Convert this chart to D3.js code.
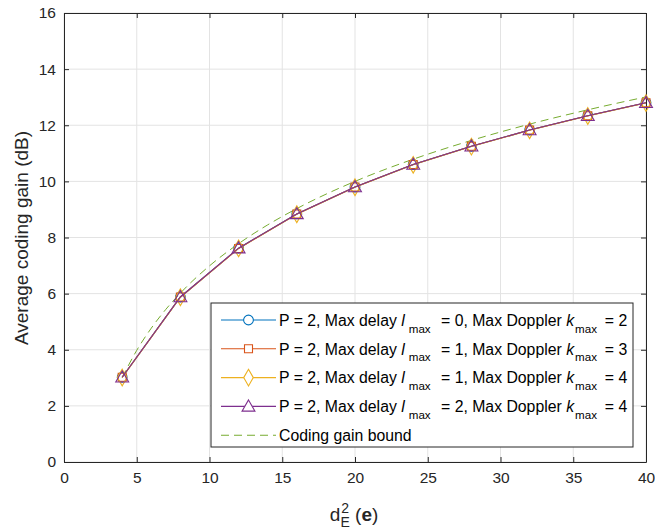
<!DOCTYPE html>
<html>
<head>
<meta charset="utf-8">
<script src="https://cdn.jsdelivr.net/npm/d3@7"></script>
<style>
  body { margin: 0; background: #fff; }
  svg { font-family: "Liberation Sans", Arial, Helvetica, sans-serif; }
</style>
</head>
<body>
<div id="chart"></div>
<script>
// data
const dist = [4, 8, 12, 16, 20, 24, 28, 32, 36, 40];
const gainA = [3.02, 5.88, 7.62, 8.84, 9.80, 10.60, 11.25, 11.83, 12.34, 12.80];
const gainB = [3.02, 5.88, 7.61, 8.84, 9.80, 10.60, 11.25, 11.83, 12.34, 12.80];
const gainC = [3.01, 5.87, 7.61, 8.83, 9.79, 10.59, 11.24, 11.82, 12.33, 12.79];
const gainD = [3.02, 5.88, 7.62, 8.84, 9.80, 10.60, 11.25, 11.83, 12.34, 12.80];
const boundX = [4, 5, 6, 7, 8, 10, 12, 14, 16, 20, 24, 28, 32, 36, 40];
const boundY = [3.01, 3.98, 4.77, 5.44, 6.02, 6.99, 7.78, 8.45, 9.03, 10.0, 10.79, 11.46, 12.04, 12.55, 13.01];
const xTicks = [0, 5, 10, 15, 20, 25, 30, 35, 40];
const yTicks = [0, 2, 4, 6, 8, 10, 12, 14, 16];
const legendL = ["0", "1", "1", "2"];
const legendK = ["2", "3", "4", "4"];

const width = 655, height = 529,
    margin = ({ top: 13, right: 9, bottom: 67, left: 64 });

const svg = d3.select("#chart")
    .append("svg")
    .attr("width", width)
    .attr("height", height);

const x = d3.scaleLinear()
    .domain([0, 40])
    .range([margin.left, width - margin.right]);

const y = d3.scaleLinear()
    .domain([0, 16])
    .range([height - margin.bottom, margin.top]);

const axisColor = "#262626";

// grid
svg.append("g")
    .selectAll("line")
    .data(xTicks)
    .join("line")
    .attr("x1", d => x(d)).attr("x2", d => x(d))
    .attr("y1", y(0)).attr("y2", y(16))
    .attr("stroke", "#e3e3e3");

svg.append("g")
    .selectAll("line")
    .data(yTicks)
    .join("line")
    .attr("x1", x(0)).attr("x2", x(40))
    .attr("y1", d => y(d)).attr("y2", d => y(d))
    .attr("stroke", "#e3e3e3");

// axes (ticks point inward like matlab)
const xAxis = g => g
    .attr("transform", `translate(0, ${y(0)})`)
    .call(d3.axisBottom(x).tickValues(xTicks).tickSizeInner(-5).tickSizeOuter(0).tickPadding(10))
    .attr("font-size", 15.5);

const yAxis = g => g
    .attr("transform", `translate(${x(0)}, 0)`)
    .call(d3.axisLeft(y).tickValues(yTicks).tickSizeInner(-5).tickSizeOuter(0).tickPadding(8))
    .attr("font-size", 15.5);

const xTop = g => g
    .attr("transform", `translate(0, ${y(16)})`)
    .call(d3.axisTop(x).tickValues(xTicks).tickSizeInner(-5).tickSizeOuter(0).tickFormat(""));

const yRight = g => g
    .attr("transform", `translate(${x(40)}, 0)`)
    .call(d3.axisRight(y).tickValues(yTicks).tickSizeInner(-5).tickSizeOuter(0).tickFormat(""));

[xAxis, yAxis, xTop, yRight].forEach(a => {
    const g = svg.append("g").call(a);
    g.selectAll("path, line").attr("stroke", axisColor);
    g.selectAll("text").attr("fill", axisColor);
});

// axis labels
svg.append("text")
    .attr("transform", `translate(27.5, 238) rotate(-90)`)
    .attr("text-anchor", "middle")
    .attr("font-size", 19)
    .attr("fill", axisColor)
    .text("Average coding gain (dB)");

const xl = svg.append("text")
    .attr("x", 354)
    .attr("y", 521)
    .attr("text-anchor", "middle")
    .attr("font-size", 19)
    .attr("fill", axisColor);
xl.append("tspan").text("d");
xl.append("tspan").attr("font-size", 14).attr("dx", 1).attr("dy", -8).text("2");
xl.append("tspan").attr("font-size", 14).attr("dx", -8.5).attr("dy", 14).text("E");
xl.append("tspan").attr("dy", -6).text(" (");
xl.append("tspan").attr("font-weight", "bold").text("e");
xl.append("tspan").text(")");

// series
const series = [
    { vals: gainA, color: "#0072BD", marker: "circle" },
    { vals: gainB, color: "#D95319", marker: "square" },
    { vals: gainC, color: "#EDB120", marker: "diamond" },
    { vals: gainD, color: "#7E2F8E", marker: "triangle" }
];

const markerPath = {
    circle: d3.symbol(d3.symbolCircle, 75),
    square: d3.symbol(d3.symbolSquare, 64),
    diamond: d3.symbol(d3.symbolDiamond, 80),
    triangle: d3.symbol(d3.symbolTriangle, 72)
};

const line = d3.line()
    .x(d => x(d[0]))
    .y(d => y(d[1]));

// bound
svg.append("path")
    .datum(boundX.map((d, i) => [d, boundY[i]]))
    .attr("fill", "none")
    .attr("stroke", "#77AC30")
    .attr("stroke-width", 1)
    .attr("stroke-dasharray", "8,5")
    .attr("d", line.curve(d3.curveMonotoneX));

line.curve(d3.curveLinear);

series.forEach(s => {
    const pts = dist.map((d, i) => [d, s.vals[i]]);
    svg.append("path")
        .datum(pts)
        .attr("fill", "none")
        .attr("stroke", s.color)
        .attr("stroke-width", 1.1)
        .attr("d", line);
    svg.append("g")
        .selectAll("path")
        .data(pts)
        .join("path")
        .attr("transform", d => `translate(${x(d[0])}, ${y(d[1]) + (s.marker === "triangle" ? 1 : 0)})`)
        .attr("d", markerPath[s.marker]())
        .attr("fill", "none")
        .attr("stroke", s.color)
        .attr("stroke-width", 1.1);
});

// legend
const lg = svg.append("g").attr("transform", "translate(211, 303)");
lg.append("rect")
    .attr("width", 422).attr("height", 144)
    .attr("fill", "#fff")
    .attr("stroke", axisColor);

const rows = series.map((s, i) => ({ ...s, l: legendL[i], k: legendK[i] }));
rows.push({ color: "#77AC30", marker: null });

rows.forEach((r, i) => {
    const cy = 17 + i * 28.8;
    const row = lg.append("g").attr("transform", `translate(0, ${cy})`);
    row.append("line")
        .attr("x1", 10).attr("x2", 65)
        .attr("stroke", r.color)
        .attr("stroke-width", 1.1)
        .attr("stroke-dasharray", r.marker ? null : "8,5");
    if (r.marker) {
        row.append("path")
            .attr("transform", `translate(37.5, ${r.marker === "triangle" ? 1 : 0})`)
            .attr("d", markerPath[r.marker]())
            .attr("fill", "#fff")
            .attr("stroke", r.color)
            .attr("stroke-width", 1.1);
    }
    const t = row.append("text")
        .attr("x", 68).attr("y", 5.7)
        .attr("font-size", 15.8)
        .attr("fill", "#000");
    if (r.marker) {
        t.append("tspan").text("P = 2, Max delay ");
        t.append("tspan").attr("font-style", "italic").text("l");
        t.append("tspan").attr("font-size", 11.6).attr("dx", 4).attr("dy", 7).text("max");
        t.append("tspan").attr("dx", 6).attr("dy", -7).text(` = ${r.l}, Max Doppler `);
        t.append("tspan").attr("font-style", "italic").text("k");
        t.append("tspan").attr("font-size", 11.6).attr("dx", 1).attr("dy", 7).text("max");
        t.append("tspan").attr("dx", 3.5).attr("dy", -7).text(` = ${r.k}`);
    } else {
        t.text("Coding gain bound");
    }
});
</script>
</body>
</html>
